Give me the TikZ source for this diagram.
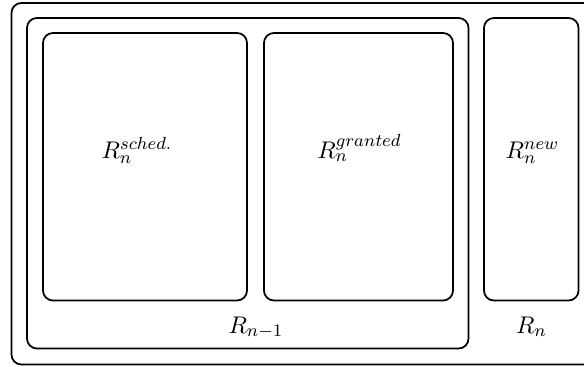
\documentclass[tikz,border=0pt]{standalone}
\usepackage{amsmath}
\usetikzlibrary{positioning}
\tikzset{regionbox/.style={draw,line width=0.8pt,rounded corners=4.5pt},
	 setlabel/.style={anchor=base,inner sep=0pt,font=\fontsize{11}{13}\selectfont}
	 }

\begin{document}
\begin{tikzpicture}[x=0.4545pt,y=-0.4545pt] % nested resource sets
	\useasboundingbox (0,0) rectangle (584,367);
	\draw[regionbox] (11.5,3) rectangle (600,364.5); % R_n, open on the right
	\draw[regionbox] (27,18) rectangle (468.5,348.5);
	\draw[regionbox] (43,33) rectangle (247,300.5);
	\draw[regionbox] (264,33) rectangle (453,300.5);
	\draw[regionbox] (484,18) rectangle (578.5,300.5);
	\node[setlabel] (sched) at (137,158) {$R_n^{sched.}$};
	\node[setlabel] (granted) at (359.5,158) {$R_n^{granted}$};
	\node[setlabel] (new) at (532.5,158) {$R_n^{new}$};
	\node[setlabel] (prev) at (256,333) {$R_{n-1}$};
	\node[setlabel] (curr) at (531.5,333) {$R_n$};
\end{tikzpicture}
\end{document}
